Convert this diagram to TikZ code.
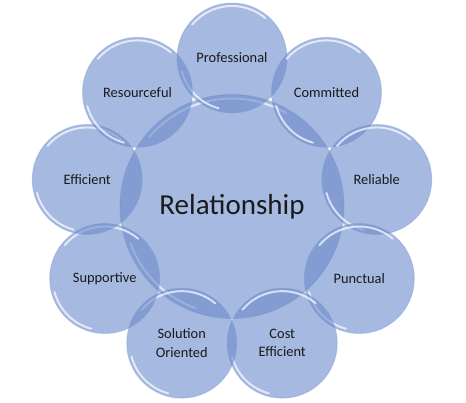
\documentclass[tikz,border=0pt]{standalone}
\usepackage{fontspec}
\setmainfont{Carlito}
\definecolor{Bubble}{HTML}{6B8ACB}
\definecolor{Rim}{HTML}{7D9AD6}
\definecolor{Ink}{HTML}{1A1A1A}

\begin{document}
\begin{tikzpicture}[bubble/.style={circle,fill=Bubble,fill opacity=.6,text opacity=1,text=Ink,draw=Rim,draw opacity=.4,line width=.5pt,minimum size=2.2cm,inner sep=0pt,align=center,font=\fontsize{8.2}{10.5}\selectfont},
    hubstyle/.style={bubble,minimum size=4.48cm,font=\fontsize{16.5}{20}\selectfont},
    shine/.style={white,line width=1.1pt,opacity=.7,line cap=round}]
    \useasboundingbox (-4.64,-3.96) rectangle (4.68,4.10);
    \node[hubstyle] (rel) at (0,-.03) {Relationship};
    \draw[shine] (rel.center) ++(60:2.16) arc[start angle=60,end angle=140,radius=2.16];
    \draw[shine] (rel.center) ++(200:2.16) arc[start angle=200,end angle=250,radius=2.16];
    \foreach \ang/\nm/\txt in {90/prof/Professional,50/comm/Committed,10/reli/Reliable,-30/punc/Punctual,-70/cost/{Cost\\Efficient},-110/solu/{Solution\\Oriented},-150/supp/Supportive,170/effi/Efficient,130/reso/Resourceful}{
      \node[bubble] (\nm) at (\ang:2.94) {\txt};
      \draw[shine] (\nm.center) ++(50:1.04) arc[start angle=50,end angle=140,radius=1.04];
      \draw[shine] (\nm.center) ++(195:1.04) arc[start angle=195,end angle=255,radius=1.04];
    }
  \end{tikzpicture}
\end{document}
